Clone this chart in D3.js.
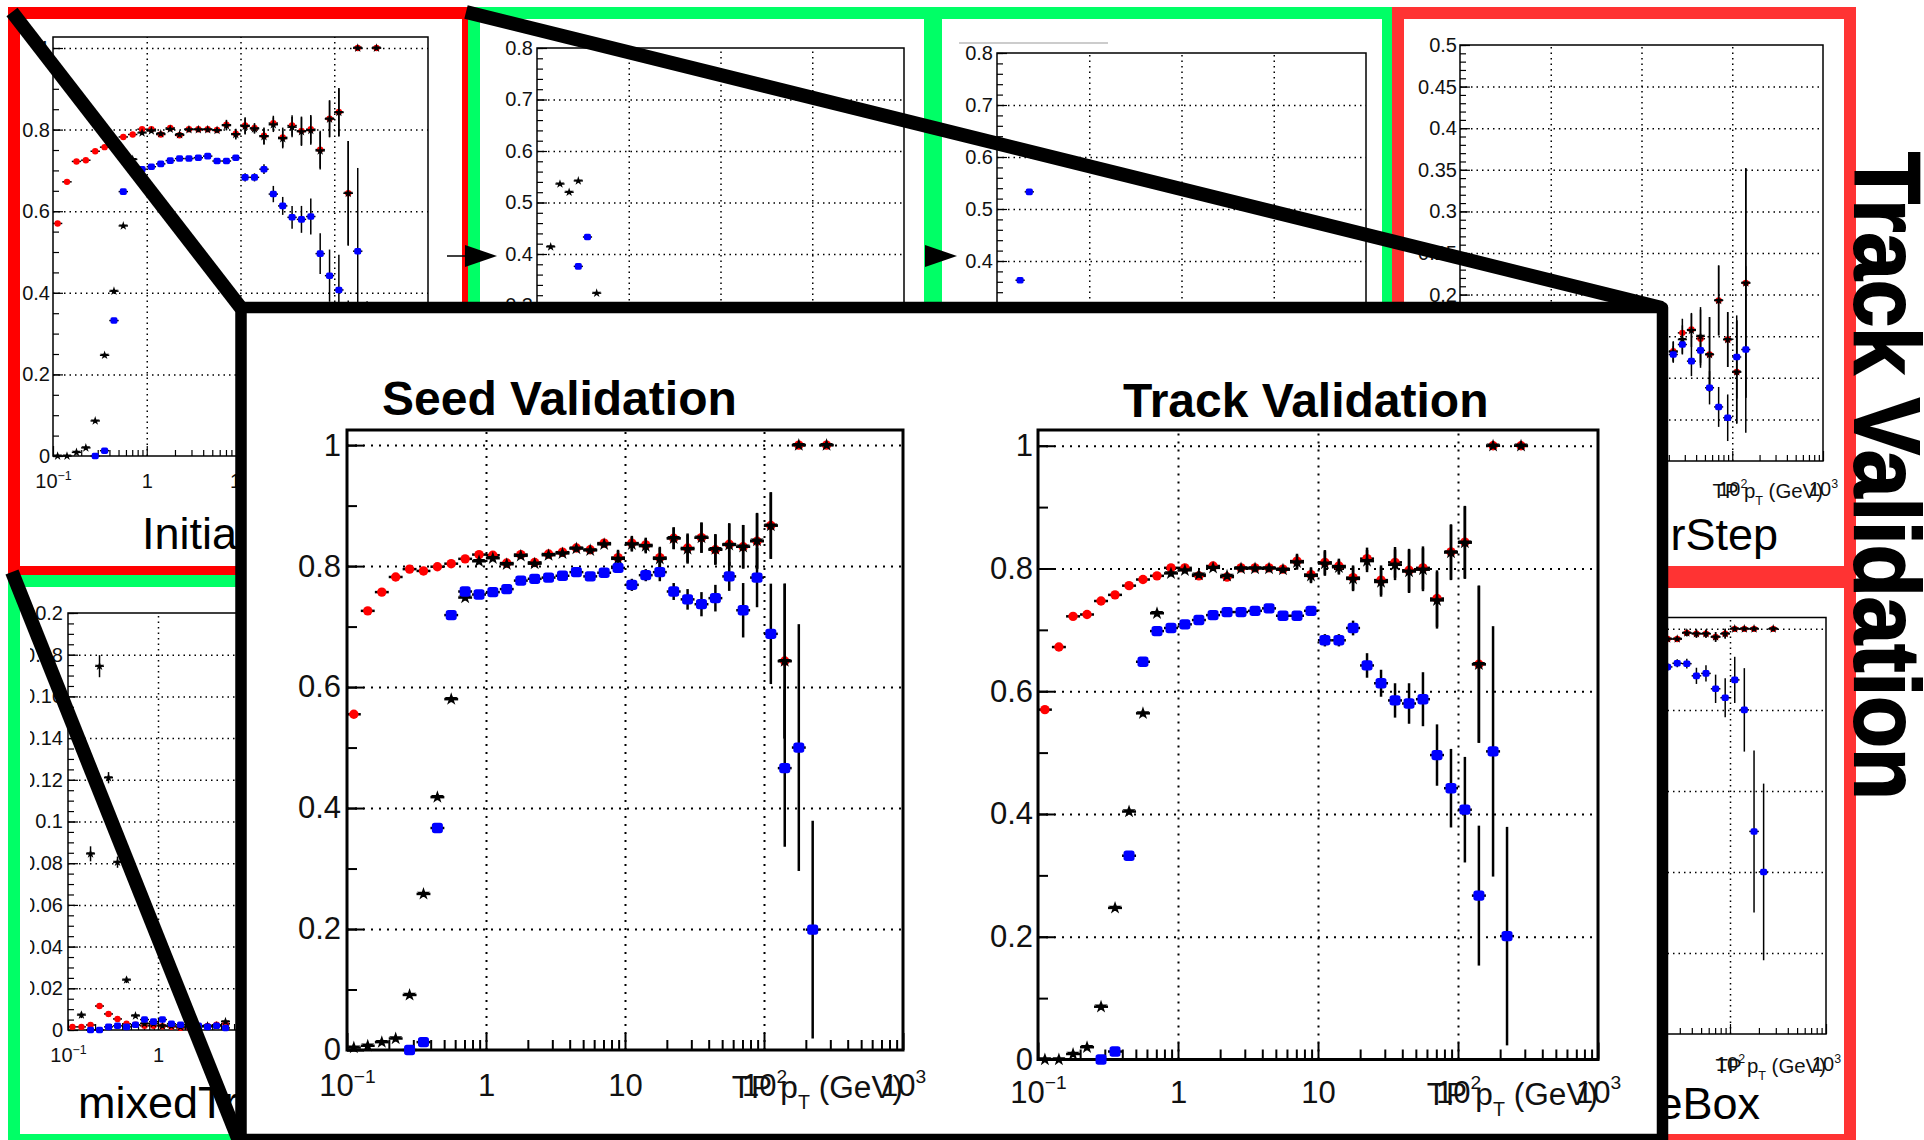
<!DOCTYPE html>
<html>
<head>
<meta charset="utf-8">
<script src="https://cdn.jsdelivr.net/npm/d3@7"></script>
<style>
  body { margin: 0; background: #fff; }
  svg { display: block; }
</style>
</head>
<body>
<div id="chart"></div>
<script>
// ---- data ----
// pT bin centres, 10 log bins per decade starting at 0.1 GeV
const ptCenters = [0.112, 0.141, 0.178, 0.224, 0.282, 0.355, 0.447, 0.562, 0.708, 0.891,
  1.12, 1.41, 1.78, 2.24, 2.82, 3.55, 4.47, 5.62, 7.08, 8.91,
  11.2, 14.1, 17.8, 22.4, 28.2, 35.5, 44.7, 56.2, 70.8, 89.1,
  112, 141, 178, 224, 282];

// Seed Validation
const seedRed = [0.555, 0.726, 0.757, 0.782, 0.795, 0.792, 0.799, 0.804, 0.812, 0.819,
  0.818, 0.805, 0.819, 0.806, 0.820, 0.823, 0.830, 0.827, 0.838, 0.814,
  0.838, 0.835, 0.814, 0.846, 0.830, 0.847, 0.827, 0.836, 0.832, 0.841,
  0.867, 0.643, 1.0, null, 1.0];
const seedBlack = [0.004, 0.007, 0.013, 0.019, 0.091, 0.258, 0.418, 0.580, 0.748, 0.808,
  0.813, 0.803, 0.817, 0.804, 0.818, 0.821, 0.829, 0.826, 0.836, 0.812,
  0.836, 0.833, 0.812, 0.846, 0.828, 0.847, 0.828, 0.835, 0.832, 0.842,
  0.867, 0.643, 1.0, null, 1.0];
const seedBlue = [null, null, null, null, 0.0, 0.013, 0.367, 0.719, 0.758, 0.753,
  0.757, 0.762, 0.776, 0.779, 0.781, 0.784, 0.790, 0.783, 0.789, 0.797,
  0.769, 0.785, 0.790, 0.758, 0.745, 0.737, 0.747, 0.783, 0.727, 0.781,
  0.688, 0.466, 0.500, 0.199, null];
const seedEffErr = [0.005, 0.005, 0.005, 0.005, 0.005, 0.005, 0.005, 0.005, 0.005, 0.005,
  0.005, 0.005, 0.005, 0.005, 0.005, 0.005, 0.005, 0.005, 0.005, 0.013,
  0.012, 0.012, 0.018, 0.018, 0.024, 0.025, 0.025, 0.035, 0.036, 0.046,
  0.055, 0.128, 0.003, null, 0.003];
const seedBlueErr = [null, null, null, null, 0.005, 0.005, 0.005, 0.005, 0.005, 0.005,
  0.005, 0.005, 0.005, 0.005, 0.005, 0.005, 0.005, 0.005, 0.005, 0.005,
  0.01, 0.01, 0.015, 0.014, 0.017, 0.02, 0.022, 0.024, 0.045, 0.049,
  0.083, 0.13, 0.204, 0.18, null];

// Track Validation (also the InitialStep panel)
const trackRed = [0.570, 0.672, 0.722, 0.725, 0.747, 0.757, 0.772, 0.782, 0.788, 0.801,
  0.801, 0.788, 0.804, 0.786, 0.801, 0.801, 0.801, 0.799, 0.812, 0.790,
  0.810, 0.804, 0.785, 0.816, 0.781, 0.810, 0.797, 0.801, 0.751, 0.827,
  0.843, 0.644, 1.0, null, 1.0];
const trackBlack = [0.0, 0.0, 0.009, 0.020, 0.086, 0.247, 0.404, 0.564, 0.727, 0.792,
  0.797, 0.790, 0.801, 0.788, 0.800, 0.800, 0.800, 0.798, 0.810, 0.788,
  0.808, 0.802, 0.783, 0.812, 0.778, 0.806, 0.795, 0.798, 0.748, 0.826,
  0.842, 0.644, 1.0, null, 1.0];
const trackBlue = [null, null, null, null, 0.0, 0.013, 0.332, 0.648, 0.698, 0.703,
  0.709, 0.716, 0.724, 0.729, 0.729, 0.731, 0.735, 0.723, 0.723, 0.731,
  0.683, 0.683, 0.703, 0.642, 0.613, 0.585, 0.580, 0.587, 0.496, 0.442,
  0.407, 0.267, 0.502, 0.201, null];
const trackEffErr = [0.005, 0.005, 0.005, 0.005, 0.005, 0.005, 0.005, 0.005, 0.005, 0.005,
  0.005, 0.005, 0.005, 0.005, 0.005, 0.005, 0.005, 0.005, 0.012, 0.012,
  0.02, 0.012, 0.02, 0.018, 0.024, 0.025, 0.035, 0.035, 0.046, 0.045,
  0.059, 0.128, 0.003, null, 0.003];
const trackBlueErr = [null, null, null, null, 0.005, 0.005, 0.005, 0.005, 0.005, 0.005,
  0.005, 0.005, 0.005, 0.005, 0.005, 0.005, 0.005, 0.005, 0.005, 0.005,
  0.01, 0.01, 0.012, 0.02, 0.022, 0.028, 0.033, 0.044, 0.05, 0.064,
  0.086, 0.114, 0.204, 0.178, null];

// background panels (only the parts that show)
const bBlackPt = [0.141, 0.178, 0.224, 0.282, 0.447];
const bBlack = [0.414, 0.536, 0.520, 0.542, 0.324];
const bBluePt = [0.282, 0.355];
const bBlue = [0.376, 0.433];

const cBluePt = [0.178, 0.224];
const cBlue = [0.363, 0.533];

const dPt = [22.4, 28.2, 35.5, 44.7, 56.2, 70.8, 89.1, 112, 141];
const dRed = [0.132, 0.154, 0.158, 0.147, 0.128, 0.193, 0.146, 0.107, 0.214];
const dRedErr = [0.012, 0.017, 0.02, 0.035, 0.045, 0.042, 0.033, 0.062, 0.138];
const dBlack = [0.131, 0.146, 0.157, 0.150, 0.128, 0.193, 0.146, 0.107, 0.214];
const dBlue = [0.128, 0.140, 0.120, 0.133, 0.088, 0.065, 0.052, 0.125, 0.134];
const dBlueErr = [0.01, 0.012, 0.018, 0.015, 0.02, 0.024, 0.028, 0.05, 0.1];

const ePt = ptCenters.slice(0, 18);
const eBlack = [null, 0.0072, 0.0845, 0.1745, 0.121, 0.0805, 0.024, 0.0068, 0.003, 0.003,
  0.002, 0.002, 0.0015, 0.002, 0.0015, 0.002, 0.002, 0.004];
const eBlackErr = [null, 0.0015, 0.0036, 0.0053, 0.0027, 0.0027, 0.0015, 0.001, 0.001, 0.001,
  0.001, 0.001, 0.001, 0.001, 0.001, 0.001, 0.001, 0.001];
const eRed = [0.0015, 0.0015, 0.0024, 0.0115, 0.0077, 0.0053, 0.003, 0.0025, 0.002, 0.002,
  0.0018, 0.0015, 0.001, 0.001, 0.002, 0.002, 0.0025, 0.003];
const eBlue = [null, null, 0.0, 0.0, 0.0015, 0.002, 0.0015, 0.0025, 0.005, 0.004,
  0.005, 0.003, 0.0025, 0.002, 0.002, 0.0015, 0.002, 0.001];

const fPt = [22.4, 28.2, 35.5, 44.7, 56.2, 70.8, 89.1, 112, 141, 178, 224, 282];
const fRed = [0.975, 0.975, 0.990, 0.988, 0.988, 0.980, 0.988, 1.0, 1.0, 1.0, null, 1.0];
const fRedErr = [0.005, 0.005, 0.008, 0.01, 0.01, 0.012, 0.012, 0.003, 0.003, 0.003, null, 0.003];
const fBlue = [0.906, 0.915, 0.914, 0.884, 0.890, 0.852, 0.830, 0.874, 0.800, 0.500, 0.400, null];
const fBlueErr = [0.01, 0.01, 0.012, 0.02, 0.02, 0.035, 0.048, 0.057, 0.103, 0.2, 0.218, null];

const ticks02 = [0, 0.2, 0.4, 0.6, 0.8, 1];
const ticks01 = [0, 0.1, 0.2, 0.3, 0.4, 0.5, 0.6, 0.7, 0.8];
const ticks005 = [0, 0.05, 0.1, 0.15, 0.2, 0.25, 0.3, 0.35, 0.4, 0.45, 0.5];
const ticks002 = [0, 0.02, 0.04, 0.06, 0.08, 0.1, 0.12, 0.14, 0.16, 0.18, 0.2];
const decades = [0.1, 1, 10, 100, 1000];

// ---- drawing ----
const FONT = '"Liberation Sans", Arial, Helvetica, sans-serif';
const RED = "#ff0000", BLUE = "#0000ff", GREEN = "#00ff66", RED2 = "#ff3333";

const svg = d3.select("#chart").append("svg")
    .attr("width", 1924)
    .attr("height", 1140)
    .style("font-family", FONT);
svg.append("rect").attr("width", 1924).attr("height", 1140).attr("fill", "#fff");

const small = {font: 20, tickMajor: 10, tickMinor: 6, frameW: 1.5, tickW: 1.2, gridW: 1.5, dash: "1.5,4",
  r: 3.2, sq: 7, star: 26, barW: 1.5};
const big = {font: 31, tickMajor: 17, tickMinor: 10, frameW: 3, tickW: 2, gridW: 2, dash: "2,6",
  r: 4.7, sq: 11, star: 55, barW: 2.5};

function drawPlot(g, c) {
  const s = c.style;
  const x = d3.scaleLog().domain([0.1, 1000]).range([c.left, c.right]);
  const y = d3.scaleLinear().domain([0, c.ymax]).range([c.bottom, c.top]);
  const w = c.right - c.left, h = c.bottom - c.top;

  // dotted grid
  g.append("g")
      .attr("transform", "translate(" + c.left + ",0)")
      .call(d3.axisLeft(y).tickValues(c.yTicks.filter(v => v > 0 && v < c.ymax - 1e-6)).tickSize(-w).tickFormat(""))
      .call(a => a.select(".domain").remove())
      .selectAll("line").attr("stroke-width", s.gridW).attr("stroke-dasharray", s.dash);
  g.append("g")
      .attr("transform", "translate(0," + c.bottom + ")")
      .call(d3.axisBottom(x).tickValues([1, 10, 100]).tickSize(-h).tickFormat(""))
      .call(a => a.select(".domain").remove())
      .selectAll("line").attr("stroke-width", s.gridW).attr("stroke-dasharray", s.dash);

  // frame
  g.append("rect")
      .attr("x", c.left).attr("y", c.top)
      .attr("width", w).attr("height", h)
      .attr("fill", "none").attr("stroke", "#000").attr("stroke-width", s.frameW);

  // y ticks
  g.append("g")
      .attr("transform", "translate(" + c.left + ",0)")
      .call(d3.axisLeft(y).tickValues(d3.range(0, c.ymax + 1e-6, c.yMinor)).tickSize(-s.tickMinor).tickFormat(""))
      .call(a => a.select(".domain").remove())
      .selectAll("line").attr("stroke-width", s.tickW);
  const ya = g.append("g")
      .attr("transform", "translate(" + c.left + ",0)")
      .call(d3.axisLeft(y).tickValues(c.yTicks).tickSize(-s.tickMajor).tickPadding(c.yPad).tickFormat(d3.format("~g")))
      .attr("font-size", s.font).attr("font-family", FONT);
  ya.select(".domain").remove();
  ya.selectAll("line").attr("stroke-width", s.tickW);
  ya.selectAll("text").attr("fill", "#111");

  // x ticks
  const xMinor = [];
  [0.1, 1, 10, 100].forEach(d => { for (let m = 2; m <= 9; m++) xMinor.push(d * m); });
  g.append("g")
      .attr("transform", "translate(0," + c.bottom + ")")
      .call(d3.axisBottom(x).tickValues(xMinor).tickSize(-s.tickMinor).tickFormat(""))
      .call(a => a.select(".domain").remove())
      .selectAll("line").attr("stroke-width", s.tickW);
  const xa = g.append("g")
      .attr("transform", "translate(0," + c.bottom + ")")
      .call(d3.axisBottom(x).tickValues(decades).tickSize(-s.tickMajor).tickPadding(c.xPad).tickFormat(""))
      .attr("font-size", s.font).attr("font-family", FONT);
  xa.select(".domain").remove();
  xa.selectAll("line").attr("stroke-width", s.tickW);
  xa.selectAll(".tick text").attr("fill", "#111").each(function (d) {
    const t = d3.select(this);
    if (d === 1) { t.text("1"); return; }
    if (d === 10) { t.text("10"); return; }
    t.append("tspan").text("10");
    t.append("tspan")
        .attr("font-size", s.font * 0.62)
        .attr("dy", -s.font * 0.42)
        .text(d === 0.1 ? "\u22121" : d === 100 ? "2" : "3");
  });

  // axis title, right-aligned on the axis end (sits over the 10^2 label, as in ROOT)
  const ts = s.font * 1.02;
  const ty = c.bottom + c.xPad + s.font * 0.71 + 2;
  const tt = g.append("text")
      .attr("x", c.right).attr("y", ty)
      .attr("text-anchor", "end")
      .attr("font-size", ts).attr("fill", "#111");
  tt.append("tspan").text("TP p");
  tt.append("tspan").attr("font-size", ts * 0.62).attr("dy", ts * 0.35).text("T");
  tt.append("tspan").attr("dy", -ts * 0.35).text(" (GeV)");

  return {x: x, y: y};
}

function drawSeries(g, sc, s, pts, vals, errs, kind) {
  const d = pts.map((p, i) => ({p: p, v: vals[i], e: errs ? errs[i] : null}))
      .filter(o => o.v !== null && o.v !== undefined);
  const x = sc.x, y = sc.y;
  g.selectAll(null).data(d).join("line")
      .attr("x1", o => x(o.p / 1.122)).attr("x2", o => x(o.p * 1.122))
      .attr("y1", o => y(o.v)).attr("y2", o => y(o.v))
      .attr("stroke", "#000").attr("stroke-width", s.barW);
  g.selectAll(null).data(d.filter(o => o.e)).join("line")
      .attr("x1", o => x(o.p)).attr("x2", o => x(o.p))
      .attr("y1", o => y(Math.max(0, o.v - o.e))).attr("y2", o => y(Math.min(1, o.v + o.e)))
      .attr("stroke", "#000").attr("stroke-width", s.barW);
  if (kind === "red") {
    g.selectAll(null).data(d).join("circle")
        .attr("cx", o => x(o.p)).attr("cy", o => y(o.v)).attr("r", s.r)
        .attr("fill", RED);
  } else if (kind === "blue") {
    g.selectAll(null).data(d).join("rect")
        .attr("x", o => x(o.p) - s.sq / 2).attr("y", o => y(o.v) - s.sq * 0.47)
        .attr("width", s.sq).attr("height", s.sq * 0.94)
        .attr("rx", s.sq * 0.25)
        .attr("fill", BLUE);
  } else {
    g.selectAll(null).data(d).join("path")
        .attr("transform", o => "translate(" + x(o.p) + "," + y(o.v) + ")")
        .attr("d", d3.symbol(d3.symbolStar, s.star))
        .attr("fill", "#000");
  }
}

function box(x0, y0, x1, y1, color) {
  svg.append("rect")
      .attr("x", x0 + 6).attr("y", y0 + 6)
      .attr("width", x1 - x0 - 12).attr("height", y1 - y0 - 12)
      .attr("fill", "none").attr("stroke", color).attr("stroke-width", 12);
}

function panelTitle(x, y, anchor, txt) {
  svg.append("text")
      .attr("x", x).attr("y", y)
      .attr("text-anchor", anchor)
      .attr("font-size", 45).attr("fill", "#000")
      .text(txt);
}

// panel A : InitialStep
let g = svg.append("g");
let sc = drawPlot(g, {style: small, left: 53, right: 428, top: 37, bottom: 456, ymax: 1.027,
  yTicks: ticks02, yMinor: 0.05, yPad: 3, xPad: 18});
drawSeries(g, sc, small, ptCenters, trackRed, trackEffErr, "red");
drawSeries(g, sc, small, ptCenters, trackBlack, trackEffErr, "black");
drawSeries(g, sc, small, ptCenters, trackBlue, trackBlueErr, "blue");
panelTitle(142, 549, "start", "InitialStep");
box(8, 7, 474, 578, RED);

// panel B
g = svg.append("g");
sc = drawPlot(g, {style: small, left: 537, right: 904, top: 48, bottom: 460, ymax: 0.8,
  yTicks: ticks01, yMinor: 0.02, yPad: 4, xPad: 18});
drawSeries(g, sc, small, bBlackPt, bBlack, null, "black");
drawSeries(g, sc, small, bBluePt, bBlue, null, "blue");
box(468, 7, 936, 578, GREEN);

// panel C
g = svg.append("g");
sc = drawPlot(g, {style: small, left: 997, right: 1366, top: 53, bottom: 469, ymax: 0.8,
  yTicks: ticks01, yMinor: 0.02, yPad: 4, xPad: 18});
drawSeries(g, sc, small, cBluePt, cBlue, null, "blue");
svg.append("line").attr("x1", 959).attr("x2", 1108).attr("y1", 43).attr("y2", 43)
    .attr("stroke", "#999").attr("stroke-width", 1);
box(930, 7, 1394, 578, GREEN);

// panel D
g = svg.append("g");
sc = drawPlot(g, {style: small, left: 1460, right: 1823, top: 45, bottom: 461, ymax: 0.5,
  yTicks: ticks005, yMinor: 0.01, yPad: 3, xPad: 21});
drawSeries(g, sc, small, dPt, dRed, dRedErr, "red");
drawSeries(g, sc, small, dPt, dBlack, dRedErr, "black");
drawSeries(g, sc, small, dPt, dBlue, dBlueErr, "blue");
panelTitle(1778, 550, "end", "PixelPairStep");
box(1392, 7, 1856, 578, RED2);

// panel E : mixedTripletStep
svg.append("clipPath").attr("id", "clipE")
  .append("rect").attr("x", 30).attr("y", 575).attr("width", 450).attr("height", 570);
g = svg.append("g").attr("clip-path", "url(#clipE)");
sc = drawPlot(g, {style: small, left: 68, right: 428, top: 613, bottom: 1030, ymax: 0.2,
  yTicks: ticks002, yMinor: 0.005, yPad: 5, xPad: 18});
drawSeries(g, sc, small, ePt, eRed, null, "red");
drawSeries(g, sc, small, ePt, eBlack, eBlackErr, "black");
drawSeries(g, sc, small, ePt, eBlue, null, "blue");
panelTitle(78, 1118, "start", "mixedTripletStep");
box(8, 575, 472, 1146, GREEN);

// panel F
g = svg.append("g");
sc = drawPlot(g, {style: small, left: 1442, right: 1826, top: 617.5, bottom: 1034, ymax: 1.028,
  yTicks: ticks02, yMinor: 0.05, yPad: 3, xPad: 23});
drawSeries(g, sc, small, fPt, fRed, fRedErr, "red");
drawSeries(g, sc, small, fPt, fRed, fRedErr, "black");
drawSeries(g, sc, small, fPt, fBlue, fBlueErr, "blue");
panelTitle(1760, 1119, "end", "CoreBox");
box(1392, 576, 1856, 1146, RED2);

// arrows between panels
svg.append("line").attr("x1", 447).attr("x2", 466).attr("y1", 256).attr("y2", 256)
    .attr("stroke", "#000").attr("stroke-width", 1.5);
[465, 925].forEach(ax => {
  svg.append("path")
      .attr("d", "M" + ax + ",245 L" + (ax + 32) + ",256 L" + ax + ",267 Z")
      .attr("fill", "#000");
});

// side label
svg.append("text")
    .attr("transform", "translate(1855,152) rotate(90)")
    .attr("font-size", 93).attr("font-weight", "bold")
    .attr("textLength", 648).attr("lengthAdjust", "spacingAndGlyphs")
    .attr("fill", "#000").attr("stroke", "#000").attr("stroke-width", 2)
    .text("Track Validation");

// zoom lines
[[12, 12, 241, 308], [466, 12, 1662, 308], [12, 572, 241, 1146]].forEach(l => {
  svg.append("line")
      .attr("x1", l[0]).attr("y1", l[1]).attr("x2", l[2]).attr("y2", l[3])
      .attr("stroke", "#000").attr("stroke-width", 14);
});

// inset
svg.append("rect")
    .attr("x", 241).attr("y", 307.5)
    .attr("width", 1421.5).attr("height", 832)
    .attr("fill", "#fff").attr("stroke", "#000").attr("stroke-width", 11.5)
    .attr("stroke-linejoin", "round");

g = svg.append("g");
sc = drawPlot(g, {style: big, left: 347, right: 903, top: 430, bottom: 1050, ymax: 1.025,
  yTicks: ticks02, yMinor: 0.1, yPad: 6, xPad: 24});
drawSeries(g, sc, big, ptCenters, seedRed, seedEffErr, "red");
drawSeries(g, sc, big, ptCenters, seedBlack, seedEffErr, "black");
drawSeries(g, sc, big, ptCenters, seedBlue, seedBlueErr, "blue");
svg.append("text").attr("x", 382).attr("y", 415)
    .attr("font-size", 48).attr("font-weight", "bold").attr("fill", "#000")
    .text("Seed Validation");

g = svg.append("g");
sc = drawPlot(g, {style: big, left: 1038, right: 1598, top: 430, bottom: 1059.5, ymax: 1.0256,
  yTicks: ticks02, yMinor: 0.1, yPad: 5, xPad: 21});
drawSeries(g, sc, big, ptCenters, trackRed, trackEffErr, "red");
drawSeries(g, sc, big, ptCenters, trackBlack, trackEffErr, "black");
drawSeries(g, sc, big, ptCenters, trackBlue, trackBlueErr, "blue");
svg.append("text").attr("x", 1123).attr("y", 417)
    .attr("font-size", 48).attr("font-weight", "bold").attr("fill", "#000")
    .text("Track Validation");
</script>
</body>
</html>
